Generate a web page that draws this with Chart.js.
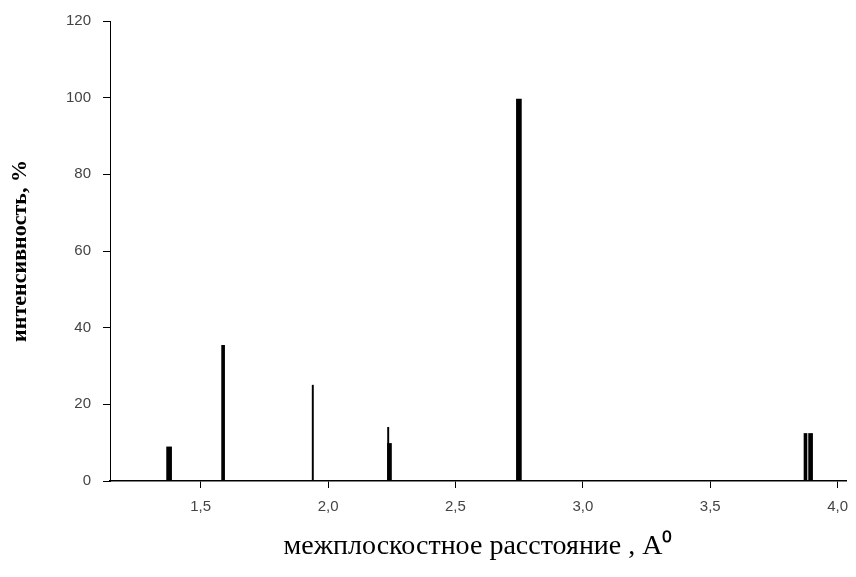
<!DOCTYPE html>
<html>
<head>
<meta charset="utf-8">
<script src="https://cdn.jsdelivr.net/npm/chart.js@4"></script>
<style>
  html, body { margin: 0; padding: 0; background: #fff; }
  #wrap { width: 856px; height: 577px; }
</style>
</head>
<body>
<div id="wrap"><canvas id="c" width="856" height="577"></canvas></div>
<script>
// d-spacing (Å) and relative intensity (%) of the diffraction lines
const dHeavy = [1.376, 2.749];
const iHeavy = [8.9, 99.6];
const dThick = [2.241, 3.894];
const iThick = [9.8, 12.4];
const dMedium = [1.588, 3.874];
const iMedium = [35.4, 12.4];
const dThin = [1.940, 2.236];
const iThin = [25.0, 14.0];

const xTickValues = [1.5, 2.0, 2.5, 3.0, 3.5, 4.0];
const xTickLabels = ['1,5', '2,0', '2,5', '3,0', '3,5', '4,0'];
const yTickValues = [0, 20, 40, 60, 80, 100, 120];
const yTickLabels = ['0', '20', '40', '60', '80', '100', '120'];

const xTitle = 'межплоскостное расстояние , A⁰';
const yTitle = 'интенсивность, %';

function pts(xs, ys) { return xs.map((x, i) => ({ x: x, y: ys[i] })); }

const tickFont = { family: '"Liberation Sans", Arial, sans-serif', size: 15 };

new Chart(document.getElementById('c'), {
  type: 'bar',
  data: {
    datasets: [
      { data: pts(dHeavy, iHeavy), barThickness: 5, backgroundColor: '#000' },
      { data: pts(dThick, iThick), barThickness: 4, backgroundColor: '#000' },
      { data: pts(dMedium, iMedium), barThickness: 3, backgroundColor: '#000' },
      { data: pts(dThin, iThin), barThickness: 1.3, backgroundColor: '#000' }
    ]
  },
  options: {
    responsive: false,
    animation: false,
    grouped: false,
    layout: { padding: { left: 0, right: 10, top: 20, bottom: 0 } },
    plugins: { legend: { display: false }, tooltip: { enabled: false } },
    scales: {
      x: {
        type: 'linear',
        offset: false,
        min: 1.144,
        max: 4.033,
        afterBuildTicks: s => { s.ticks = xTickValues.map(v => ({ value: v })); },
        afterFit: s => { s.height = 96; s.paddingLeft = 0; s.paddingRight = 0; },
        grid: { offset: false, drawOnChartArea: false, drawTicks: true, tickLength: 7, color: '#000', lineWidth: 1 },
        border: { display: true, color: '#000', width: 1.5 },
        ticks: {
          padding: 10,
          color: '#444',
          font: tickFont,
          maxRotation: 0,
          callback: (v) => { const k = xTickValues.indexOf(v); return k >= 0 ? xTickLabels[k] : ''; }
        },
        title: {
          display: true,
          text: xTitle,
          color: '#000',
          font: { family: '"Liberation Serif", "Times New Roman", serif', size: 28 },
          padding: { top: 0, bottom: 14 }
        }
      },
      y: {
        type: 'linear',
        min: 0,
        max: 120,
        afterBuildTicks: s => { s.ticks = yTickValues.map(v => ({ value: v })); },
        afterFit: s => { s.width = 110; },
        grid: { drawOnChartArea: false, drawTicks: true, tickLength: 7, color: '#000', lineWidth: 1 },
        border: { display: true, color: '#000', width: 1 },
        ticks: {
          padding: 12,
          color: '#444',
          font: tickFont,
          callback: (v) => { const k = yTickValues.indexOf(v); return k >= 0 ? yTickLabels[k] : ''; }
        },
        title: {
          display: true,
          text: yTitle,
          color: '#000',
          font: { family: '"Liberation Serif", "Times New Roman", serif', size: 22, weight: 'bold' },
          padding: { top: 7, bottom: 7 }
        }
      }
    }
  }
});
</script>
</body>
</html>
